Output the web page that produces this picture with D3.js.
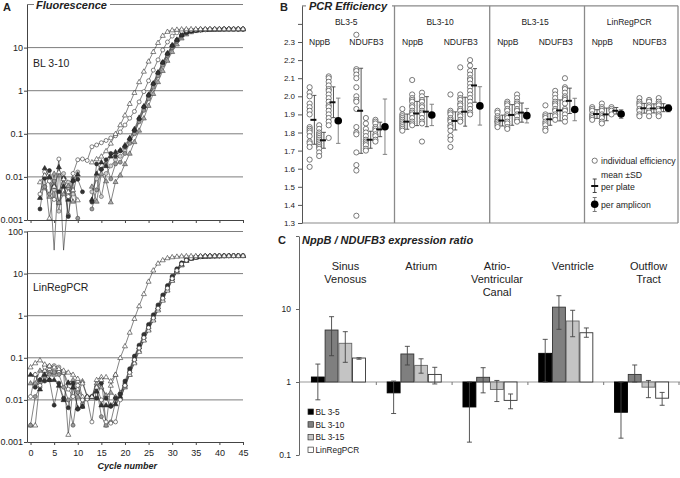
<!DOCTYPE html>
<html><head><meta charset="utf-8">
<script src="https://cdn.jsdelivr.net/npm/d3@7/dist/d3.min.js"></script>
<style>
body{margin:0;background:#fff;}
svg{display:block;font-family:'Liberation Sans',Arial,Helvetica,sans-serif;}
</style></head><body>
<svg id="chart" width="680" height="478"></svg>
<script>
// ================= Panel A data (fluorescence per cycle, cycles 0..45) =================
const cycles = [0,1,2,3,4,5,6,7,8,9,10,11,12,13,14,15,16,17,18,19,20,21,22,23,24,25,26,27,28,29,30,31,32,33,34,35,36,37,38,39,40,41,42,43,44,45];
const cycleTicks = [0,5,10,15,20,25,30,35,40,45];
const fluorTicksTop = [0.001,0.01,0.1,1,10];
const fluorTicksBot = [0.001,0.01,0.1,1,10,100];
const gridLevels = [0.01,0.1,1,10,100];

const bl_openTri = [null,null,0.0076,0.011,0.0011,0.006,0.013,0.009,0.0045,0.005,
  0.0029,null,null,0.022,0.026,0.03,0.04,0.06,0.1,0.16,
  0.27,0.5,0.9,1.6,2.8,4.8,8,13,19,23.5,
  25.5,26.3,26.8,27,27.1,27.2,27.3,27.3,27.4,27.4,
  27.4,27.5,27.5,27.5,27.5,27.4];
const bl_openCirc = [null,null,0.004,0.013,0.008,0.003,0.026,0.0002,0.0035,0.012,
  0.025,0.026,0.024,0.05,0.055,0.062,0.07,0.08,0.09,0.11,
  0.16,0.23,0.33,0.55,0.95,1.7,3,5.2,8.8,13.5,
  18.5,22,24,25,25.5,25.8,26,26.1,26.2,26.3,
  26.3,26.4,26.4,26.4,26.5,26.5];
const bl_grayCirc = [null,null,null,0.0059,0.004,0.008,0.0025,0.007,0.0013,0.009,
  0.0011,null,null,0.0018,0.005,0.015,0.02,0.009,0.02,0.022,
  0.035,0.06,0.1,0.19,0.35,0.65,1.2,2.2,3.9,6.5,
  10,14,18.5,21.8,23.8,25,25.6,26,26.2,26.4,
  26.5,26.6,26.6,26.7,26.7,26.7];
const bl_darkCirc = [null,null,0.0018,0.0093,0.014,0.006,0.0045,0.0093,0.0012,0.008,
  0.0088,0.0045,null,0.0026,0.02,0.015,0.025,0.035,0.03,0.04,
  0.05,0.075,0.12,0.22,0.42,0.78,1.45,2.6,4.5,7.2,
  11,15,19.5,22.5,24.3,25.3,25.9,26.2,26.4,26.6,
  26.7,26.8,26.9,26.9,27,27];
const bl_grayTri = [null,null,null,0.0055,0.0035,0.012,0.0025,0.004,0.0062,0.0027,
  null,null,null,0.006,0.0027,0.012,0.008,0.0026,0.0077,0.011,
  0.02,0.035,0.065,0.12,0.23,0.45,0.85,1.6,2.9,5,
  8,12,16.5,20.5,23,24.5,25.4,25.9,26.2,26.4,
  26.5,26.6,26.7,26.7,26.8,26.8];
const bl_darkTri = [null,null,0.0033,0.016,0.01,0.0002,0.017,0.006,0.003,0.0085,
  0.0115,null,null,0.003,0.012,0.022,0.018,0.03,0.038,0.042,
  0.055,0.08,0.13,0.24,0.44,0.82,1.5,2.7,4.6,7.5,
  11.5,15.5,20,23,24.6,25.5,26,26.3,26.5,26.6,
  26.7,26.8,26.9,27,27,27];
const bl_lightCirc = [null,null,null,0.006,0.009,0.005,0.0016,0.012,0.0075,0.004,
  0.013,null,null,0.0045,0.009,0.0035,0.012,0.018,0.025,0.03,
  0.04,0.065,0.11,0.2,0.38,0.7,1.3,2.4,4.2,6.8,
  10.5,14.5,19,22,24,25.2,25.8,26.1,26.3,26.5,
  26.6,26.7,26.7,26.8,26.8,26.8];

const lr_openTri = [0.06,0.075,0.088,0.07,0.065,0.06,0.055,0.05,0.045,0.04,
  0.032,0.025,0.012,0.012,0.02,0.03,0.035,0.028,0.04,0.1,
  0.19,0.4,0.85,1.7,3.3,6.5,12,17.5,21,23.5,
  24.8,25.5,26,26.2,26.3,26.4,26.5,26.5,26.6,26.6,
  26.6,26.7,26.7,26.7,26.7,26.7];
const lr_openTri2 = [0.0025,0.0025,0.03,0.05,0.055,0.05,0.048,0.045,0.0015,0.02,
  0.028,0.012,0.011,0.011,0.03,0.035,0.0025,0.022,0.04,0.015,
  0.022,0.04,0.075,0.14,0.26,0.45,0.78,1.35,2.3,4,
  6.8,11,16,20.5,23,24.5,25.2,25.7,26,26.2,
  26.3,26.4,26.5,26.5,26.5,26.5];
const lr_grayCirc = [0.0025,0.012,0.02,0.035,0.04,0.045,0.04,0.02,0.01,0.0025,
  0.015,0.008,0.012,0.012,0.02,0.004,0.0025,0.003,0.009,0.013,
  0.025,0.05,0.1,0.19,0.33,0.56,0.95,1.65,2.8,4.8,
  8,12.5,17.5,21,23.3,24.6,25.3,25.7,26,26.2,
  26.3,26.4,26.5,26.5,26.6,26.6];
const lr_darkCirc = [null,0.02,0.03,0.028,0.03,0.0075,0.025,0.011,0.0065,0.025,
  0.006,0.007,null,0.012,0.011,0.025,0.011,0.007,0.011,0.014,
  0.028,0.055,0.11,0.2,0.36,0.62,1.05,1.8,3.1,5.2,
  8.6,13,18,21.5,23.6,24.8,25.5,25.9,26.2,26.4,
  26.5,26.6,26.7,26.7,26.8,26.8];
const lr_darkTri = [0.04,0.04,0.018,0.04,0.03,0.03,0.022,0.01,0.026,0.02,
  0.0065,0.007,0.012,0.012,0.016,0.0075,0.0075,0.0075,0.008,0.012,
  0.024,0.048,0.095,0.18,0.32,0.55,0.93,1.6,2.75,4.7,
  7.8,12,17,21,23.3,24.6,25.3,25.8,26.1,26.3,
  26.4,26.5,26.6,26.6,26.7,26.7];
const lr_openCirc = [0.012,0.04,0.022,0.06,0.062,0.065,0.06,0.045,0.018,0.012,
  0.022,0.01,0.0105,0.003,0.02,0.01,0.003,0.0028,0.003,0.01,
  0.022,0.045,0.09,0.17,0.3,0.52,0.88,1.5,2.6,4.5,
  7.6,11.8,16.8,20.8,23.2,24.5,25.2,25.6,25.9,26.1,
  26.2,26.3,26.3,26.4,26.4,26.4];
const lr_grayTri = [0.025,0.025,0.05,0.05,0.045,0.04,0.05,0.045,0.025,0.03,
  0.012,0.028,0.012,0.012,0.025,0.02,0.013,0.015,0.012,0.011,
  0.02,0.04,0.08,0.15,0.27,0.47,0.8,1.4,2.4,4.1,
  7,11,16,20.2,22.8,24.3,25.1,25.6,25.9,26.1,
  26.2,26.3,26.4,26.4,26.4,26.4];

// ================= Panel B data (PCR efficiency) =================
const effPanels = ["BL3-5","BL3-10","BL3-15","LinRegPCR"];
const amplicons = ["NppB","NDUFB3"];
const effTicks = [1.3,1.4,1.5,1.6,1.7,1.8,1.9,2.0,2.1,2.2,2.3,2.4];

const eff_BL35_NppB = [
  [2.05,2.02,2.00,1.96,1.94,1.92,1.90,1.83,1.82,1.81,1.80,1.78,1.75,1.74,1.72,1.65,1.61],
  [1.84,1.82,1.80,1.79,1.78,1.77,1.76,1.75,1.74,1.73,1.72,1.71,1.69,1.67],
  [2.11,2.10,2.08,2.06,2.04,2.03,2.01,1.99,1.97,1.95,1.94,1.92,1.90,1.88,1.86,1.84,1.77]];
const eff_BL35_NDUFB3 = [
  [2.34,2.15,2.14,2.12,2.10,2.05,2.00,1.98,1.97,1.93,1.83,1.80,1.79,1.69,1.62,1.59,1.34],
  [1.88,1.85,1.82,1.80,1.78,1.76,1.75,1.74,1.73,1.71,1.70],
  [1.87,1.86,1.85,1.83,1.82,1.81,1.79,1.78,1.76,1.75]];
const eff_BL310_NppB = [
  [1.93,1.90,1.89,1.88,1.87,1.86,1.85,1.84,1.83,1.82,1.81],
  [2.09,2.01,1.99,1.98,1.97,1.95,1.94,1.92,1.91,1.90,1.88,1.86,1.85,1.84],
  [2.02,2.00,1.98,1.97,1.95,1.94,1.92,1.91,1.90,1.88,1.86,1.85,1.75]];
const eff_BL310_NDUFB3 = [
  [2.01,1.92,1.91,1.90,1.88,1.87,1.86,1.84,1.83,1.81,1.78,1.76,1.72],
  [2.16,2.01,1.99,1.98,1.96,1.95,1.93,1.92,1.90,1.89,1.87,1.86],
  [2.20,2.17,2.14,2.12,2.10,2.09,2.07,2.05,2.03,2.01,1.99,1.97,1.95,1.93,1.91,1.90]];
const eff_BL315_NppB = [
  [1.92,1.91,1.89,1.88,1.87,1.86,1.86,1.85,1.84,1.83],
  [1.97,1.96,1.95,1.93,1.92,1.90,1.89,1.88,1.86,1.85,1.83,1.82],
  [2.01,1.99,1.97,1.96,1.95,1.93,1.92,1.90,1.89,1.87,1.86]];
const eff_BL315_NDUFB3 = [
  [1.95,1.90,1.89,1.88,1.86,1.85,1.84,1.82,1.81],
  [2.03,2.01,1.99,1.97,1.96,1.95,1.93,1.92,1.90,1.89,1.87],
  [2.10,2.05,2.04,2.02,2.00,1.99,1.98,1.96,1.93,1.92,1.90,1.88,1.86]];
const eff_LRP_NppB = [
  [1.94,1.93,1.92,1.90,1.89,1.88,1.87],
  [1.96,1.94,1.93,1.92,1.90,1.89,1.88,1.86,1.85],
  [1.94,1.93,1.92,1.90]];
const eff_LRP_NDUFB3 = [
  [1.99,1.97,1.96,1.95,1.93,1.92,1.90,1.89],
  [1.98,1.97,1.95,1.94,1.92,1.91,1.89],
  [1.99,1.97,1.96,1.95,1.93,1.92,1.90,1.89]];

// per-plate mean and SD (NppB plates 1-3, NDUFB3 plates 1-3)
const plateMean_BL35 = [1.87,1.757,1.967,1.92,1.76,1.817];
const plateSD_BL35   = [0.135,0.044,0.085,0.235,0.047,0.04];
const plateMean_BL310 = [1.86,1.905,1.915,1.864,1.915,2.06];
const plateSD_BL310   = [0.042,0.067,0.083,0.05,0.08,0.093];
const plateMean_BL315 = [1.866,1.897,1.91,1.873,1.922,1.975];
const plateSD_BL315   = [0.03,0.057,0.053,0.033,0.058,0.07];
const plateMean_LRP = [1.902,1.90,1.92,1.934,1.933,1.937];
const plateSD_LRP   = [0.024,0.035,0.018,0.027,0.025,0.022];
// per-amplicon mean and SD (NppB, NDUFB3)
const ampMean_BL35 = [1.865,1.832];  const ampSD_BL35 = [0.125,0.153];
const ampMean_BL310 = [1.897,1.947]; const ampSD_BL310 = [0.059,0.106];
const ampMean_BL315 = [1.893,1.927]; const ampSD_BL315 = [0.04,0.062];
const ampMean_LRP = [1.902,1.934];   const ampSD_LRP = [0.024,0.02];

// ================= Panel C data (NppB / NDUFB3 expression ratio) =================
const regions = ["Sinus Venosus","Atrium","Atrio-Ventricular Canal","Ventricle","Outflow Tract"];
const regionLines = [["Sinus","Venosus"],["Atrium"],["Atrio-","Ventricular","Canal"],["Ventricle"],["Outflow","Tract"]];
const methods = ["BL 3-5","BL 3-10","BL 3-15","LinRegPCR"];
const ratioTicks = [0.1,1,10];
const ratio_BL35  = [1.17,0.71,0.455,2.47,0.385];
const ratio_BL310 = [5.15,2.42,1.16,10.6,1.27];
const ratio_BL315 = [3.39,1.69,0.79,6.85,0.85];
const ratio_LRP   = [2.13,1.27,0.56,4.73,0.60];
const errHi_BL35  = [1.76,1.03,1.0,3.84,1.0];
const errLo_BL35  = [0.57,0.37,0.15,1.0,0.17];
const errHi_BL310 = [7.85,3.08,1.57,15.2,1.71];
const errLo_BL310 = [2.29,1.71,0.71,5.27,1.0];
const errHi_BL315 = [4.89,2.08,1.05,9.6,1.05];
const errLo_BL315 = [1.86,1.32,0.54,4.17,0.61];
const errHi_LRP   = [2.15,1.59,0.685,5.5,0.72];
const errLo_LRP   = [2.05,0.94,0.43,4.1,0.48];

// ================= Drawing =================
const svg = d3.select("#chart");
const ink = "#222";

// ---------- Panel A ----------
const xA = d3.scaleLinear().domain([-0.75,45]).range([27,243]);
const yA1 = d3.scaleLog().domain([0.001,100]).range([220,4.5]);
const yA2 = d3.scaleLog().domain([0.001,100]).range([442,231.5]);

const styles = {
  openTri:{shape:"tri",fill:"#fff",stroke:"#333"},
  openCirc:{shape:"circ",fill:"#fff",stroke:"#333"},
  grayCirc:{shape:"circ",fill:"#9a9a9a",stroke:"#444"},
  lightCirc:{shape:"circ",fill:"#cfcfcf",stroke:"#555"},
  darkCirc:{shape:"circ",fill:"#333",stroke:"#222"},
  grayTri:{shape:"tri",fill:"#a8a8a8",stroke:"#444"},
  darkTri:{shape:"tri",fill:"#333",stroke:"#222"}
};
const seriesTop = [
  {v:bl_lightCirc,s:"lightCirc"},{v:bl_grayTri,s:"grayTri"},{v:bl_grayCirc,s:"grayCirc"},
  {v:bl_darkTri,s:"darkTri"},{v:bl_darkCirc,s:"darkCirc"},{v:bl_openCirc,s:"openCirc"},{v:bl_openTri,s:"openTri"}];
const seriesBot = [
  {v:lr_grayTri,s:"grayTri"},{v:lr_openTri2,s:"openTri"},{v:lr_grayCirc,s:"grayCirc"},
  {v:lr_darkTri,s:"darkTri"},{v:lr_darkCirc,s:"darkCirc"},{v:lr_openCirc,s:"openCirc"},{v:lr_openTri,s:"openTri"}];

function drawAmp(y, series, yTicks, showXLabels) {
  const g = svg.append("g");
  g.selectAll("line.grid").data(gridLevels).join("line")
    .attr("x1",27).attr("x2",243).attr("y1",d=>y(d)).attr("y2",d=>y(d))
    .attr("stroke","#7d7d7d").attr("stroke-width",1);
  const xa = d3.axisBottom(xA).tickValues(cycleTicks).tickSize(3).tickSizeOuter(0)
    .tickFormat(showXLabels ? d3.format("d") : "");
  const gx = g.append("g").attr("transform",`translate(0,${y(0.001)})`).call(xa);
  gx.select(".domain").attr("stroke","#444");
  gx.selectAll(".tick line").attr("stroke","#444");
  gx.selectAll("text").attr("font-size",9).attr("fill",ink).attr("dy","0.9em");
  const ya = d3.axisLeft(y).tickValues(yTicks).tickSize(3).tickSizeOuter(0).tickFormat(d=>String(d));
  const gy = g.append("g").attr("transform",`translate(27,0)`).call(ya);
  gy.select(".domain").attr("stroke","#444");
  gy.selectAll(".tick line").attr("stroke","#444");
  gy.selectAll("text").attr("font-size",9).attr("fill",ink).attr("x",-4);
  const line = d3.line().defined(d=>d.v!=null).x(d=>xA(d.c)).y(d=>y(d.v));
  series.forEach(sr => {
    const pts = cycles.map((c,i)=>({c:c,v:sr.v[i]}));
    g.append("path").attr("d",line(pts)).attr("fill","none")
      .attr("stroke","#333").attr("stroke-width",0.6);
  });
  series.forEach(sr => {
    const st = styles[sr.s];
    const pts = cycles.map((c,i)=>({c:c,v:sr.v[i]})).filter(d=>d.v!=null && d.v>=0.001);
    if (st.shape==="circ") {
      g.selectAll(null).data(pts).join("circle")
        .attr("cx",d=>xA(d.c)).attr("cy",d=>y(d.v)).attr("r",2.0)
        .attr("fill",st.fill).attr("stroke",st.stroke).attr("stroke-width",0.6);
    } else {
      const sym = d3.symbol(d3.symbolTriangle, 11);
      g.selectAll(null).data(pts).join("path")
        .attr("d",sym).attr("transform",d=>`translate(${xA(d.c)},${y(d.v)+0.3})`)
        .attr("fill",st.fill).attr("stroke",st.stroke).attr("stroke-width",0.6);
    }
  });
  return g;
}
drawAmp(yA1, seriesTop, fluorTicksTop, false);
drawAmp(yA2, seriesBot, fluorTicksBot, true);

svg.append("rect").attr("x",34).attr("y",0).attr("width",76).attr("height",10).attr("fill","#fff");
svg.append("text").attr("x",36).attr("y",9).text("Fluorescence")
  .attr("font-size",11).attr("font-weight","bold").attr("font-style","italic").attr("fill",ink);
svg.append("text").attr("x",3).attr("y",11).text("A").attr("font-size",11).attr("font-weight","bold").attr("fill",ink);
svg.append("text").attr("x",33).attr("y",67).text("BL 3-10").attr("font-size",10.5).attr("fill",ink);
svg.append("text").attr("x",33).attr("y",291).text("LinRegPCR").attr("font-size",10.5).attr("fill",ink);
svg.append("text").attr("x",xA(20.5)).attr("y",469).attr("text-anchor","middle").text("Cycle number")
  .attr("font-size",9).attr("font-weight","bold").attr("font-style","italic").attr("fill",ink);

// ---------- Panel B ----------
const yB = d3.scaleLinear().domain([1.3,2.5]).range([223,5.8]);
const bEdges = [302,394.5,489.7,584.5,678];
const effTable = [
  {plates:[eff_BL35_NppB,eff_BL35_NDUFB3],pm:plateMean_BL35,ps:plateSD_BL35,am:ampMean_BL35,as:ampSD_BL35},
  {plates:[eff_BL310_NppB,eff_BL310_NDUFB3],pm:plateMean_BL310,ps:plateSD_BL310,am:ampMean_BL310,as:ampSD_BL310},
  {plates:[eff_BL315_NppB,eff_BL315_NDUFB3],pm:plateMean_BL315,ps:plateSD_BL315,am:ampMean_BL315,as:ampSD_BL315},
  {plates:[eff_LRP_NppB,eff_LRP_NDUFB3],pm:plateMean_LRP,ps:plateSD_LRP,am:ampMean_LRP,as:ampSD_LRP}];
const gB = svg.append("g");
gB.append("line").attr("x1",302).attr("x2",678).attr("y1",yB(2.5)).attr("y2",yB(2.5)).attr("stroke","#8a8a8a").attr("stroke-width",1.2);
gB.append("line").attr("x1",302).attr("x2",678).attr("y1",yB(1.3)).attr("y2",yB(1.3)).attr("stroke","#8a8a8a").attr("stroke-width",1.2);
bEdges.slice(1).forEach(x=>{
  gB.append("line").attr("x1",x).attr("x2",x).attr("y1",yB(2.5)).attr("y2",yB(1.3)).attr("stroke","#8a8a8a").attr("stroke-width",1.3);
});
const yaB = d3.axisLeft(yB).tickValues(effTicks).tickSize(4).tickSizeOuter(0).tickFormat(d=>d<=2.3?d.toFixed(1):"");
const gyB = gB.append("g").attr("transform","translate(302,0)").call(yaB);
gyB.select(".domain").attr("stroke","#555");
gyB.selectAll(".tick line").attr("stroke","#555");
gyB.selectAll("text").attr("font-size",8).attr("fill",ink).attr("x",-7);

function errBar(g, x, lo, hi, color, cap) {
  g.append("line").attr("x1",x).attr("x2",x).attr("y1",yB(lo)).attr("y2",yB(hi)).attr("stroke",color).attr("stroke-width",0.9);
  [lo,hi].forEach(v=>g.append("line").attr("x1",x-cap).attr("x2",x+cap).attr("y1",yB(v)).attr("y2",yB(v)).attr("stroke",color).attr("stroke-width",0.9));
}
effTable.forEach((p,pi)=>{
  const xs = d3.scaleLinear().domain([-0.8,8.9]).range([bEdges[pi],bEdges[pi+1]]);
  const g = gB.append("g");
  g.append("text").attr("x",(bEdges[pi]+bEdges[pi+1])/2-2).attr("y",25).attr("text-anchor","middle")
    .text(effPanels[pi]).attr("font-size",8.5).attr("fill",ink);
  amplicons.forEach((a,ai)=>{
    const base = ai===0 ? 0 : 4.9;
    g.append("text").attr("x",xs(base+1.05)).attr("y",45).attr("text-anchor","middle")
      .text(a).attr("font-size",8.5).attr("fill",ink);
    p.plates[ai].forEach((vals,k)=>{
      g.selectAll(null).data(vals).join("circle")
        .attr("cx",xs(base+k)).attr("cy",d=>yB(d)).attr("r",2.6)
        .attr("fill","#fff").attr("stroke","#444").attr("stroke-width",0.7);
    });
    p.plates[ai].forEach((vals,k)=>{
      const m = p.pm[ai*3+k], sd = p.ps[ai*3+k];
      const ex = xs(base+k+0.5);
      errBar(g, ex, m-sd, m+sd, "#444", 2);
      g.append("line").attr("x1",ex-4).attr("x2",ex+2).attr("y1",yB(m)).attr("y2",yB(m))
        .attr("stroke","#111").attr("stroke-width",2);
    });
    const dx = xs(base+3);
    errBar(g, dx, p.am[ai]-p.as[ai], p.am[ai]+p.as[ai], "#777", 2.2);
    g.append("circle").attr("cx",dx).attr("cy",yB(p.am[ai])).attr("r",3.8).attr("fill","#000");
  });
});
gB.append("rect").attr("x",306).attr("y",0).attr("width",86).attr("height",11).attr("fill","#fff");
gB.append("text").attr("x",309).attr("y",10).text("PCR Efficiency")
  .attr("font-size",11).attr("font-weight","bold").attr("font-style","italic").attr("fill",ink);
gB.append("text").attr("x",280).attr("y",11).text("B").attr("font-size",11).attr("font-weight","bold").attr("fill",ink);
const lg = gB.append("g");
lg.append("circle").attr("cx",594.7).attr("cy",160.7).attr("r",2.6).attr("fill","#fff").attr("stroke","#444").attr("stroke-width",0.7);
lg.append("text").attr("x",601).attr("y",164).text("individual efficiency").attr("font-size",8.7).attr("fill",ink);
lg.append("text").attr("x",601).attr("y",178).text("mean \u00b1SD").attr("font-size",8.7).attr("fill",ink);
lg.append("text").attr("x",601).attr("y",189.5).text("per plate").attr("font-size",8.7).attr("fill",ink);
lg.append("text").attr("x",601).attr("y",207.5).text("per amplicon").attr("font-size",8.7).attr("fill",ink);
{
  const x = 594.7;
  lg.append("line").attr("x1",x).attr("x2",x).attr("y1",179).attr("y2",192.5).attr("stroke","#444");
  [179,192.5].forEach(v=>lg.append("line").attr("x1",x-2).attr("x2",x+2).attr("y1",v).attr("y2",v).attr("stroke","#444"));
  lg.append("line").attr("x1",x-3.5).attr("x2",x+3.5).attr("y1",186).attr("y2",186).attr("stroke","#111").attr("stroke-width",2);
  lg.append("line").attr("x1",x).attr("x2",x).attr("y1",197.5).attr("y2",211.5).attr("stroke","#777");
  [197.5,211.5].forEach(v=>lg.append("line").attr("x1",x-2).attr("x2",x+2).attr("y1",v).attr("y2",v).attr("stroke","#777"));
  lg.append("circle").attr("cx",x).attr("cy",204.3).attr("r",3.8).attr("fill","#000");
}

// ---------- Panel C ----------
const yC = d3.scaleLog().domain([0.1,100]).range([455,236]);
const x0 = d3.scaleBand().domain(regions).range([300,680]).paddingInner(0.276).paddingOuter(0.145);
const x1 = d3.scaleBand().domain(methods).range([0,x0.bandwidth()]);
const ratios = [ratio_BL35,ratio_BL310,ratio_BL315,ratio_LRP];
const errHi = [errHi_BL35,errHi_BL310,errHi_BL315,errHi_LRP];
const errLo = [errLo_BL35,errLo_BL310,errLo_BL315,errLo_LRP];
const barFill = {"BL 3-5":"#000","BL 3-10":"#7f7f7f","BL 3-15":"#c4c4c4","LinRegPCR":"#fff"};
const barStroke = {"BL 3-5":"#000","BL 3-10":"#333","BL 3-15":"#666","LinRegPCR":"#333"};
const gC = svg.append("g");
const barData = [];
methods.forEach((m,mi)=>regions.forEach((r,ri)=>barData.push({m,r,v:ratios[mi][ri],hi:errHi[mi][ri],lo:errLo[mi][ri]})));
gC.append("line").attr("x1",299).attr("x2",680).attr("y1",yC(1)).attr("y2",yC(1)).attr("stroke","#999").attr("stroke-width",1.2);
const tickXs = regions.slice(1).map(r=>x0(r) - x0.step()*x0.paddingInner()/2);
tickXs.push(680 - 1);
gC.selectAll(null).data(tickXs).join("line").attr("x1",d=>d).attr("x2",d=>d)
  .attr("y1",yC(1)).attr("y2",yC(1)+3).attr("stroke","#777");
gC.selectAll(null).data(barData).join("rect")
  .attr("x",d=>x0(d.r)+x1(d.m)+0.4).attr("width",x1.bandwidth()-0.8)
  .attr("y",d=>Math.min(yC(d.v),yC(1))).attr("height",d=>Math.abs(yC(d.v)-yC(1)))
  .attr("fill",d=>barFill[d.m]).attr("stroke",d=>barStroke[d.m]).attr("stroke-width",0.9);
barData.forEach(d=>{
  const cx = x0(d.r)+x1(d.m)+x1.bandwidth()/2;
  gC.append("line").attr("x1",cx).attr("x2",cx).attr("y1",yC(d.lo)).attr("y2",yC(d.hi)).attr("stroke","#444").attr("stroke-width",0.9);
  [d.lo,d.hi].forEach(v=>gC.append("line").attr("x1",cx-2.5).attr("x2",cx+2.5).attr("y1",yC(v)).attr("y2",yC(v)).attr("stroke","#444").attr("stroke-width",0.9));
});
const yaC = d3.axisLeft(yC).tickValues([0.1,1,10,100]).tickSize(3).tickSizeOuter(0).tickFormat(d=>ratioTicks.includes(d)?String(d):"");
const gyC = gC.append("g").attr("transform","translate(299,0)").call(yaC);
gyC.select(".domain").attr("stroke","#666");
gyC.selectAll(".tick line").attr("stroke","#666");
gyC.selectAll("text").attr("font-size",8.5).attr("fill",ink).attr("x",-8);
regions.forEach((r,ri)=>{
  const t = gC.append("text").attr("text-anchor","middle").attr("font-size",11).attr("fill",ink);
  regionLines[ri].forEach((s,li)=>t.append("tspan").attr("x",x0(r)+x0.bandwidth()/2+7).attr("y",270+li*12.8).text(s));
});
methods.forEach((m,mi)=>{
  const y = 412 + mi*12.7;
  gC.append("rect").attr("x",308).attr("y",y-3).attr("width",5.5).attr("height",5.5)
    .attr("fill",barFill[m]).attr("stroke","#333").attr("stroke-width",0.7);
  gC.append("text").attr("x",315.5).attr("y",y+3).text(m).attr("font-size",8.3).attr("fill",ink);
});
gC.append("text").attr("x",278).attr("y",244).text("C").attr("font-size",11).attr("font-weight","bold").attr("fill",ink);
gC.append("text").attr("x",302).attr("y",244).text("NppB / NDUFB3 expression ratio")
  .attr("font-size",11).attr("font-weight","bold").attr("font-style","italic").attr("fill",ink);
</script>
</body></html>
